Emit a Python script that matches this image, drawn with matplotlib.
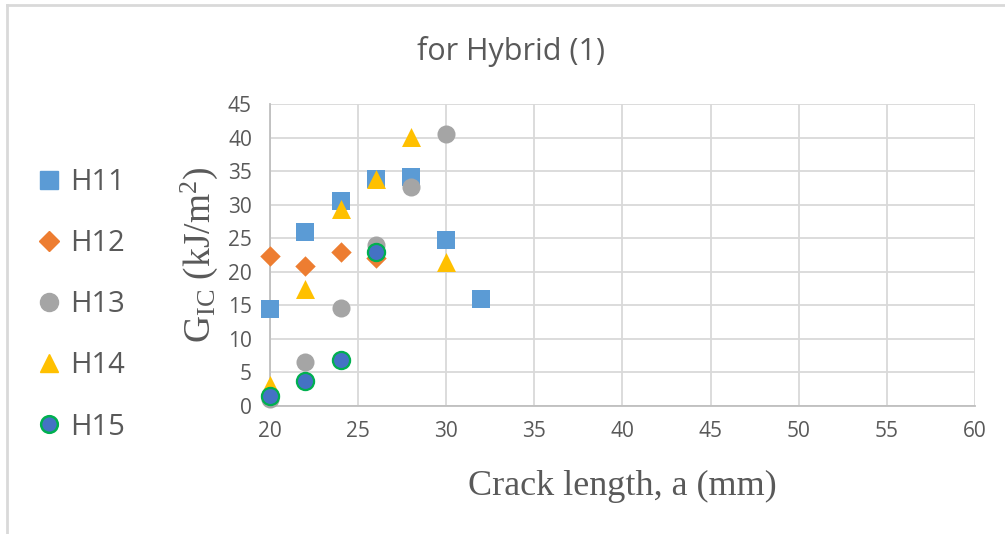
import matplotlib.pyplot as plt
from matplotlib.lines import Line2D

# crack length (mm) and G_IC (kJ/m^2) per specimen
a_h11 = [20, 22, 24, 26, 28, 30, 32]
g_h11 = [14.5, 26.0, 30.5, 33.9, 34.1, 24.7, 15.9]

a_h12 = [20, 22, 24, 26]
g_h12 = [22.3, 20.8, 22.9, 22.0]

a_h13 = [20, 22, 24, 26, 28, 30]
g_h13 = [1.0, 6.6, 14.6, 24.0, 32.7, 40.5]

a_h14 = [20, 22, 24, 26, 28, 30]
g_h14 = [3.2, 17.4, 29.3, 33.9, 40.1, 21.4]

a_h15 = [20, 22, 24, 26]
g_h15 = [1.5, 3.7, 6.8, 22.9]

labels = ["H11", "H12", "H13", "H14", "H15"]

plt.rcParams['font.family'] = ['Open Sans', 'DejaVu Sans']
plt.rcParams['mathtext.fontset'] = 'custom'
plt.rcParams['mathtext.rm'] = 'Liberation Serif'
plt.rcParams['mathtext.it'] = 'Liberation Serif'
grey = '#595959'
grid_col = '#d9d9d9'

fig = plt.figure(figsize=(10.05, 5.34), dpi=100)
ax = fig.add_axes([0.2687, 0.2397, 0.7013, 0.5653])

ms = 13
ax.scatter(a_h11, g_h11, marker='s', s=ms**2, color='#5b9bd5', zorder=3, linewidths=0, clip_on=False)
ax.scatter(a_h12, g_h12, marker='D', s=(ms * 0.8)**2, color='#ed7d31', zorder=3, linewidths=0, clip_on=False)
ax.scatter(a_h13, g_h13, marker='o', s=ms**2, color='#a5a5a5', zorder=3, linewidths=0, clip_on=False)
ax.scatter(a_h14, g_h14, marker='^', s=(ms * 1.05)**2, color='#ffc000', zorder=3, linewidths=0, clip_on=False)
ax.scatter(a_h15, g_h15, marker='o', s=(ms * 0.95)**2, color='#4472c4', edgecolors='#00b050',
           linewidths=1.6, zorder=4, clip_on=False)

ax.set_xlim(20, 60)
ax.set_ylim(0, 45)
ax.set_xticks(range(20, 61, 5))
ax.set_yticks(range(0, 46, 5))
ax.grid(True, color=grid_col, linewidth=1.3)
ax.set_axisbelow(True)
for side in ['top', 'right']:
    ax.spines[side].set_visible(False)
for side in ['left', 'bottom']:
    ax.spines[side].set_color('#bfbfbf')
    ax.spines[side].set_linewidth(1.3)
ax.tick_params(length=0, labelsize=15, colors=grey)
ax.tick_params(axis='x', pad=11)
ax.tick_params(axis='y', pad=13)

ax.set_xlabel("Crack length, a (mm)", family='Liberation Serif', fontsize=26, color=grey, labelpad=20)
ax.set_ylabel(r"$\mathregular{G_{IC}}$ (kJ/m$\mathregular{^2}$)", family='Liberation Serif', fontsize=27,
              color=grey, labelpad=6)

fig.text(0.508, 0.904, "for Hybrid (1)", ha='center', va='center', fontsize=22, color=grey)

handles = [
    Line2D([], [], marker='s', ls='', color='#5b9bd5', markersize=13),
    Line2D([], [], marker='D', ls='', color='#ed7d31', markersize=10),
    Line2D([], [], marker='o', ls='', color='#a5a5a5', markersize=13),
    Line2D([], [], marker='^', ls='', color='#ffc000', markersize=13),
    Line2D([], [], marker='o', ls='', color='#4472c4', markeredgecolor='#00b050',
           markeredgewidth=1.8, markersize=12),
]
fig.legend(handles, labels, loc='center left', bbox_to_anchor=(0.007, 0.429), frameon=False,
           fontsize=21, labelcolor=grey, handletextpad=0.15, labelspacing=1.1, handlelength=1.1)

# chart border (left and top)
fig.add_artist(Line2D([0.0065, 0.0065], [0, 0.991], color=grid_col, lw=2, transform=fig.transFigure))
fig.add_artist(Line2D([0.0065, 1.0], [0.991, 0.991], color=grid_col, lw=2, transform=fig.transFigure))

fig.savefig("out.png", dpi=100)
